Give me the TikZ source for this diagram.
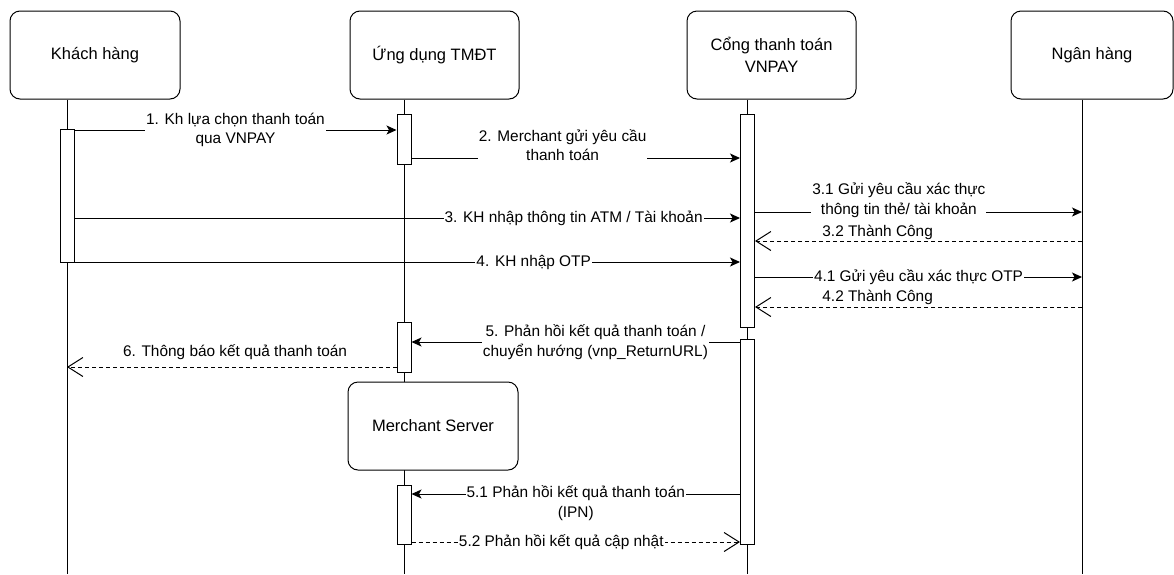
\documentclass[tikz,border=0pt]{standalone}
\usepackage{fontspec}
\setmainfont{Liberation Sans}
\usetikzlibrary{arrows.meta}

\begin{document}
\begin{tikzpicture}[x=1pt, y=-1pt, line width=1pt,
	actor/.style = {shape=rectangle, draw, fill=white, rounded corners=10pt,
	minimum width=170pt, minimum height=88pt, align=center,
	font=\fontsize{16.5}{22}\selectfont},
	bar/.style = {shape=rectangle, draw, fill=white, minimum width=14pt, inner sep=0pt},
	msg/.style = {-{Stealth[length=10pt,width=9pt,inset=2.5pt]}},
	reply/.style = {dash pattern=on 4pt off 3pt, -{Straight Barb[length=15pt,width=19pt]}},
	lbl/.style = {fill=white, inner sep=1pt, align=center,
	font=\fontsize{15.4}{19.5}\selectfont},
	note/.style = {inner sep=1pt, font=\fontsize{15.4}{19.5}\selectfont}]
\useasboundingbox (0,0) rectangle (1174,574);

\node[actor] (kh) at (95,55) {Khách hàng};
\node[actor, minimum width=169pt] (app) at (434.5,55) {Ứng dụng TMĐT};
\node[actor, minimum width=169pt] (gw) at (771.5,55) {Cổng thanh toán\\VNPAY};
\node[actor, minimum width=162pt] (bank) at (1092,55) {Ngân hàng};

\coordinate (kh-end) at (67,574);
\coordinate (app-end) at (404,574);
\coordinate (gw-end) at (747.5,574);
\coordinate (bank-end) at (1082,574);
\draw (kh-end |- kh.south) -- (kh-end);
\draw (app-end |- app.south) -- (app-end);
\draw (gw-end |- gw.south) -- (gw-end);
\draw (bank-end |- bank.south) -- (bank-end);

\node[bar, minimum height=133pt] (khbar) at (67,195.5) {};
\node[bar, minimum height=50pt] (appbar1) at (404,139) {};
\node[bar, minimum height=50pt] (appbar2) at (404,347) {};
\node[bar, minimum height=59pt] (appbar3) at (404,514.5) {};
\node[bar, minimum height=213pt] (gwbar1) at (747.5,220.5) {};
\node[bar, minimum height=205pt] (gwbar2) at (747.5,441.5) {};
\node[actor] (srv) at (433,426) {Merchant Server};

\coordinate (r1) at (0,130);
\coordinate (r2) at (0,158);
\coordinate (r31) at (0,212);
\coordinate (r3) at (0,218);
\coordinate (r32) at (0,241);
\coordinate (r4) at (0,262);
\coordinate (r41) at (0,277);
\coordinate (r42) at (0,307);
\coordinate (r5) at (0,342);
\coordinate (r6) at (0,367);
\coordinate (r51) at (0,494);
\coordinate (r52) at (0,542);

\draw[msg] (khbar.east |- r1) -- node[lbl] {1. Kh lựa chọn thanh toán\\qua VNPAY} (appbar1.west |- r1);
\draw[msg] (appbar1.east |- r2) -- node[lbl, pos=0.46, yshift=13pt] {2. Merchant gửi yêu cầu\\thanh toán} (gwbar1.west |- r2);
\draw[msg] (khbar.east |- r3) -- node[lbl, pos=0.75] {3. KH nhập thông tin ATM / Tài khoản} (gwbar1.west |- r3);
\draw[msg] (khbar.east |- r4) -- node[lbl, pos=0.69] {4. KH nhập OTP} (gwbar1.west |- r4);
\draw[msg] (gwbar1.east |- r31) -- node[lbl, pos=0.44, yshift=12pt] {3.1 Gửi yêu cầu xác thực\\thông tin thẻ/ tài khoản} (bank-end |- r31);
\draw[reply] (bank-end |- r32) -- node[note, pos=0.625, yshift=9pt] {3.2 Thành Công} (gwbar1.east |- r32);
\draw[msg] (gwbar1.east |- r41) -- node[lbl, pos=0.5] {4.1 Gửi yêu cầu xác thực OTP} (bank-end |- r41);
\draw[reply] (bank-end |- r42) -- node[note, pos=0.625, yshift=10pt] {4.2 Thành Công} (gwbar1.east |- r42);
\draw[msg] (gwbar2.west |- r5) -- node[lbl, pos=0.44] {5. Phản hồi kết quả thanh toán /\\chuyển hướng (vnp\_ReturnURL)} (appbar2.east |- r5);
\draw[reply] (appbar2.west |- r6) -- node[note, pos=0.49, yshift=15pt] {6. Thông báo kết quả thanh toán} (kh-end |- r6);
\draw[msg] (gwbar2.west |- r51) -- node[lbl, pos=0.5, yshift=-9pt] {5.1 Phản hồi kết quả thanh toán\\(IPN)} (appbar3.east |- r51);
\draw[reply] (appbar3.east |- r52) -- node[lbl, pos=0.456] {5.2 Phản hồi kết quả cập nhật} (gwbar2.west |- r52);
\end{tikzpicture}
\end{document}
